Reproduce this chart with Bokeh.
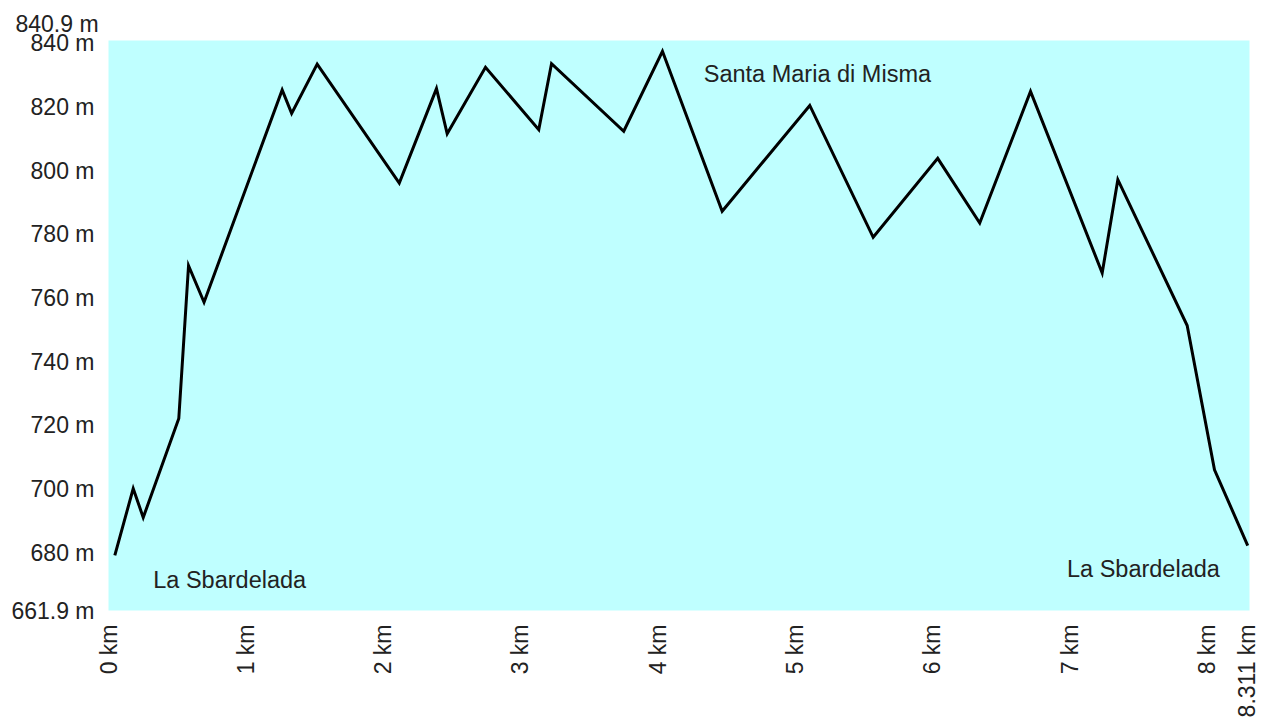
from bokeh.plotting import figure
from bokeh.models import FixedTicker, CustomJSTickFormatter, Label, Range1d
from bokeh.embed import file_html
from bokeh.resources import INLINE
import math

# --- data ---
distance_km = [0.046, 0.180, 0.253, 0.512, 0.583, 0.696, 1.265, 1.334, 1.520, 2.118,
               2.389, 2.467, 2.746, 3.134, 3.227, 3.753, 4.035, 4.470, 5.108, 5.570,
               6.040, 6.346, 6.716, 7.238, 7.352, 7.857, 8.056, 8.298]
elevation_m = [679.2, 700.2, 691.1, 722.2, 770.2, 758.7, 825.4, 818.0, 833.5, 796.1,
               825.8, 811.6, 832.5, 812.9, 833.6, 812.4, 837.5, 787.3, 820.5, 779.1,
               803.9, 783.6, 824.9, 767.9, 797.2, 751.4, 706.1, 682.3]
x_ticks = [0, 1, 2, 3, 4, 5, 6, 7, 8, 8.311]
y_ticks = [661.9, 680, 700, 720, 740, 760, 780, 800, 820, 840]
y_min, y_max = 661.9, 840.9
x_min, x_max = 0, 8.311
place_start = "La Sbardelada"
place_top = "Santa Maria di Misma"
place_end = "La Sbardelada"

FONT = "Liberation Sans"
TXT = "#222222"

p = figure(output_backend="svg", toolbar_location=None,
           frame_width=1141, frame_height=570,
           x_range=Range1d(x_min, x_max), y_range=Range1d(y_min, y_max),
           min_border_left=108, min_border_right=10, min_border_top=40, min_border_bottom=90)
p.background_fill_color = "#bfffff"
p.border_fill_color = "white"
p.outline_line_color = None
p.xgrid.visible = False
p.ygrid.visible = False

# top extent label shown as title, pushed to the left margin
p.title.text = f"{y_max} m"
p.title.align = "left"
p.title.offset = -93
p.title.standoff = 8
p.title.text_font = FONT
p.title.text_font_size = "23px"
p.title.text_font_style = "normal"
p.title.text_color = TXT

p.line(distance_km, elevation_m, line_color="black", line_width=3, line_join="miter")

# axes
p.xaxis.ticker = FixedTicker(ticks=x_ticks)
p.yaxis.ticker = FixedTicker(ticks=y_ticks)
p.xaxis.formatter = CustomJSTickFormatter(code="return tick + ' km';")
p.yaxis.formatter = CustomJSTickFormatter(code="return tick + ' m';")
for ax in (p.xaxis, p.yaxis):
    ax.axis_line_color = None
    ax.major_tick_line_color = None
    ax.minor_tick_line_color = None
    ax.major_label_text_font = FONT
    ax.major_label_text_color = TXT
    ax.major_label_standoff = 8
p.yaxis.major_label_text_font_size = "23px"
p.xaxis.major_label_text_font_size = "23px"
p.xaxis.major_label_orientation = math.pi / 2

# place names
p.add_layout(Label(x=0.326, y=671.6, text=place_start, text_align="left",
                   text_baseline="middle", text_font=FONT, text_font_size="23.5px",
                   text_color=TXT))
p.add_layout(Label(x=4.336, y=830.4, text=place_top, text_align="left",
                   text_baseline="middle", text_font=FONT, text_font_size="23.5px",
                   text_color=TXT))
p.add_layout(Label(x=8.095, y=675.0, text=place_end, text_align="right",
                   text_baseline="middle", text_font=FONT, text_font_size="23.5px",
                   text_color=TXT))

open("out.html", "w").write(file_html(p, INLINE))
